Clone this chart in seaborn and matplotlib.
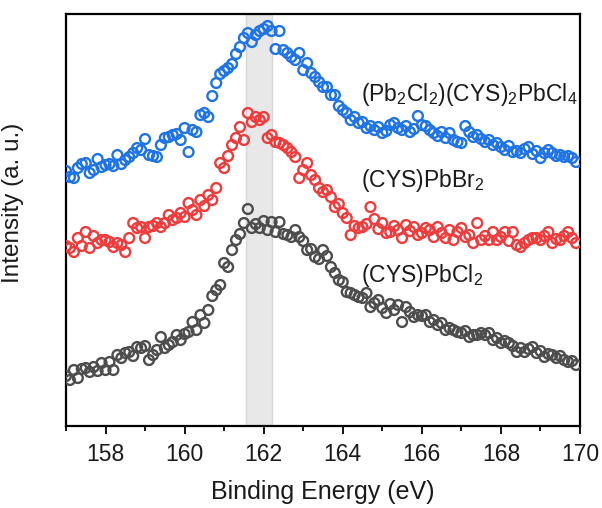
import numpy as np
import pandas as pd
import matplotlib
matplotlib.use("Agg")
import matplotlib.pyplot as plt
from matplotlib.ticker import MultipleLocator
import seaborn as sns

# binding energy grid (eV), 0.1 eV steps
energy = np.round(np.arange(157.0, 169.95, 0.1), 1)

# intensities (a. u.), curves already offset
pb2cl2 = [255, 249, 248, 258, 262, 263, 253, 256, 267, 259,
          261, 262, 260, 271, 262, 266, 269, 273, 278, 276,
          287, 271, 270, 269, 281, 288, 289, 291, 292, 286,
          298, 274, 296, 294, 311, 313, 309, 330, 343, 352,
          355, 358, 362, 372, 379, 388, 393, 384, 391, 395,
          397, 400, 395, 377, 395, 376, 373, 369, 366, 373,
          356, 363, 353, 349, 344, 339, 339, 331, 331, 320,
          316, 313, 306, 309, 303, 304, 298, 300, 296, 299,
          293, 295, 301, 303, 298, 296, 300, 294, 297, 310,
          301, 300, 296, 293, 290, 294, 288, 293, 286, 284,
          283, 300, 294, 289, 291, 287, 284, 286, 281, 283,
          279, 276, 280, 274, 275, 273, 277, 279, 272, 275,
          268, 273, 276, 273, 270, 271, 269, 270, 268, 264]

pbbr2 = [180, 178, 174, 188, 180, 194, 178, 190, 183, 186,
         186, 184, 179, 183, 181, 174, 188, 203, 198, 199,
         188, 199, 200, 203, 199, 203, 211, 206, 208, 213,
         209, 223, 216, 211, 226, 220, 231, 226, 238, 263,
         258, 270, 281, 288, 299, 286, 313, 304, 309, 306,
         309, 288, 291, 284, 283, 281, 278, 274, 269, 248,
         256, 263, 251, 246, 238, 234, 236, 229, 219, 222,
         213, 208, 191, 200, 198, 199, 202, 219, 207, 197,
         203, 193, 194, 200, 196, 188, 201, 195, 199, 191,
         193, 198, 196, 189, 199, 193, 188, 196, 186, 194,
         198, 189, 191, 183, 203, 186, 190, 186, 194, 186,
         189, 194, 185, 194, 181, 179, 183, 186, 188, 188,
         186, 190, 194, 183, 187, 186, 190, 194, 188, 183]

pbcl2 = [50, 46, 56, 48, 57, 58, 54, 59, 55, 63,
         56, 64, 56, 71, 68, 73, 74, 70, 79, 78,
         80, 66, 71, 76, 89, 78, 81, 84, 91, 86,
         92, 94, 104, 96, 111, 103, 116, 130, 136, 141,
         163, 159, 176, 186, 192, 203, 217, 198, 202, 198,
         205, 196, 204, 194, 204, 192, 191, 189, 196, 189,
         185, 176, 177, 169, 167, 176, 170, 159, 153, 146,
         144, 134, 133, 131, 129, 128, 133, 119, 123, 126,
         118, 113, 122, 116, 121, 104, 119, 114, 109, 111,
         110, 111, 104, 106, 101, 103, 96, 98, 96, 94,
         93, 95, 89, 91, 91, 93, 91, 93, 86, 88,
         83, 85, 83, 80, 74, 78, 74, 77, 79, 73,
         75, 69, 72, 71, 68, 70, 66, 64, 65, 61]

labels = ["(Pb$_2$Cl$_2$)(CYS)$_2$PbCl$_4$", "(CYS)PbBr$_2$", "(CYS)PbCl$_2$"]
colors = ["#1e73e6", "#ef3b3b", "#4d4d4d"]
label_pos = [(164.47, 325), (164.47, 239), (164.47, 144)]
band = (161.55, 162.2)

sns.set_style("ticks")
plt.rcParams['font.family'] = ['Liberation Sans', 'DejaVu Sans']
plt.rcParams['mathtext.fontset'] = 'custom'
plt.rcParams['mathtext.rm'] = 'Liberation Sans'
plt.rcParams['mathtext.it'] = 'Liberation Sans'

fig = plt.figure(figsize=(6.02, 5.08), dpi=100)
ax = fig.add_axes([0.1096, 0.1614, 0.8539, 0.811])

ax.axvspan(band[0], band[1], facecolor="#e8e8e8", edgecolor="#d6d6d6", lw=1, zorder=0)

for vals, col, lab, pos in zip([pb2cl2, pbbr2, pbcl2], colors, labels, label_pos):
    df = pd.DataFrame({"Binding Energy": energy, "Intensity": vals})
    sns.scatterplot(data=df, x="Binding Energy", y="Intensity", ax=ax,
                    marker="o", s=50, facecolors="none", edgecolor=col,
                    linewidth=1.7, zorder=3)
    ax.text(pos[0], pos[1], lab, fontsize=16.5, va="baseline", ha="left", color="#1a1a1a")

ax.set_xlim(157, 170)
ax.set_ylim(0, 412)
ax.xaxis.set_major_locator(MultipleLocator(2))
ax.xaxis.set_minor_locator(MultipleLocator(1))
ax.set_yticks([])
ax.tick_params(axis="x", which="major", length=6, width=1.3, labelsize=16.5,
               pad=6, color="black", labelcolor="#1a1a1a")
ax.tick_params(axis="x", which="minor", length=3.5, width=1.3, color="black")
for sp in ax.spines.values():
    sp.set_linewidth(1.6)
    sp.set_color("black")
    sp.set_visible(True)

ax.set_xlabel("Binding Energy (eV)", fontsize=18, labelpad=10, color="#1a1a1a")
ax.set_ylabel("Intensity (a. u.)", fontsize=17.5, color="#1a1a1a")
ax.yaxis.set_label_coords(-0.082, 0.541)

fig.savefig("out.png", dpi=100)
